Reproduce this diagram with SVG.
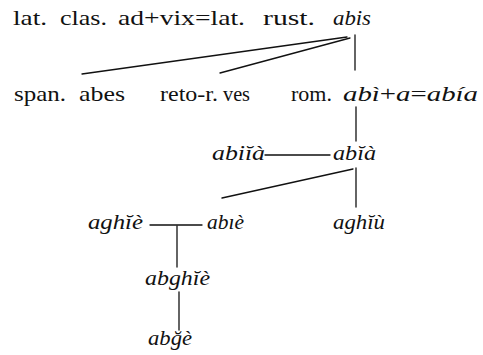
<svg xmlns="http://www.w3.org/2000/svg" width="483" height="355" viewBox="0 0 483 355">
<style>
text{font-family:"Liberation Serif","DejaVu Serif",serif;font-size:22px;fill:#111}
.i{font-style:italic}
.c line{stroke:#111;stroke-width:1.3;stroke-linecap:round}
</style>
<rect width="483" height="355" fill="#fff"/>
<g class="c" id="connectors">
<line x1="347" y1="37" x2="82" y2="74"/>
<line x1="350" y1="38" x2="220" y2="73"/>
<line x1="355" y1="35" x2="355" y2="70"/>
<line x1="356" y1="107" x2="356" y2="141"/>
<line x1="265" y1="155" x2="330" y2="155"/>
<line x1="353" y1="169" x2="222" y2="198"/>
<line x1="356" y1="168" x2="356" y2="207"/>
<line x1="150" y1="225" x2="202" y2="225"/>
<line x1="177" y1="226" x2="177" y2="267"/>
<line x1="179" y1="292" x2="179" y2="330"/>
</g>
<g id="n-abis">
<text x="13" y="25" textLength="34" lengthAdjust="spacingAndGlyphs">lat.</text>
<text x="60" y="25" textLength="47" lengthAdjust="spacingAndGlyphs">clas.</text>
<text x="118" y="25" textLength="127" lengthAdjust="spacingAndGlyphs">ad+vix=lat.</text>
<text x="263" y="25" textLength="52" lengthAdjust="spacingAndGlyphs">rust.</text>
<text class="i" x="333" y="25" textLength="38" lengthAdjust="spacingAndGlyphs">abis</text>
</g>
<g id="n-span">
<text x="14" y="101" textLength="52" lengthAdjust="spacingAndGlyphs">span.</text>
<text x="79" y="101" textLength="46" lengthAdjust="spacingAndGlyphs">abes</text>
</g>
<g id="n-reto">
<text x="160" y="101" textLength="58" lengthAdjust="spacingAndGlyphs">reto-r.</text>
<text x="223" y="101" textLength="27" lengthAdjust="spacingAndGlyphs">ves</text>
</g>
<g id="n-rom">
<text x="291" y="101" textLength="41" lengthAdjust="spacingAndGlyphs">rom.</text>
<text x="343" y="101" textLength="135" lengthAdjust="spacingAndGlyphs"><tspan class="i">abì</tspan>+<tspan class="i">a</tspan>=<tspan class="i">abía</tspan></text>
</g>
<g id="n-abiia"><text class="i" x="212" y="160" textLength="53" lengthAdjust="spacingAndGlyphs">abiĭà</text></g>
<g id="n-abia"><text class="i" x="333" y="160" textLength="43" lengthAdjust="spacingAndGlyphs">abĭà</text></g>
<g id="n-aghie"><text class="i" x="88" y="229" textLength="55" lengthAdjust="spacingAndGlyphs">aghĭè</text></g>
<g id="n-abie"><text class="i" x="207" y="229" textLength="37" lengthAdjust="spacingAndGlyphs">abıè</text></g>
<g id="n-aghiu"><text class="i" x="333" y="229" textLength="52" lengthAdjust="spacingAndGlyphs">aghĭù</text></g>
<g id="n-abghie"><text class="i" x="145" y="285" textLength="65" lengthAdjust="spacingAndGlyphs">abghĭè</text></g>
<g id="n-abge"><text class="i" x="148" y="345" textLength="44" lengthAdjust="spacingAndGlyphs">abğè</text></g>
</svg>
